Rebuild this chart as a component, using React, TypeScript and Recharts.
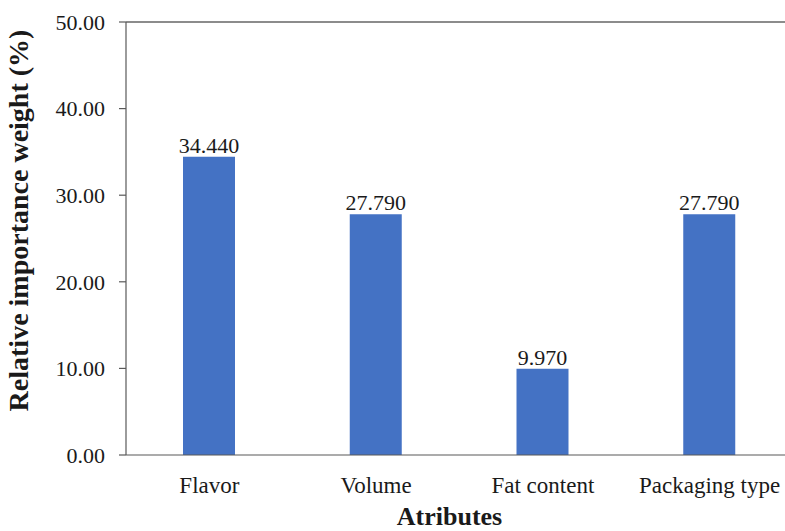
import { Bar, BarChart, LabelList, ReferenceLine, XAxis, YAxis } from "recharts";

const attributes = ["Flavor", "Volume", "Fat content", "Packaging type"];
const weights = [34.44, 27.79, 9.97, 27.79];
const yTicks = [0, 10, 20, 30, 40, 50];

const data = attributes.map((name, i) => ({ name, weight: weights[i] }));

const font = '"Liberation Serif", "Times New Roman", serif';
const ink = "#1a1a1a";
const axisStroke = "#595959";

function YTitle({ viewBox }: any) {
  const cx = viewBox.x + 28;
  const cy = viewBox.y + viewBox.height / 2 - 18;
  return (
    <text x={cx} y={cy} transform={`rotate(-90, ${cx}, ${cy})`} textAnchor="middle"
      fontFamily={font} fontSize={28} fontWeight="bold" fill={ink}>
      Relative importance weight (%)
    </text>
  );
}

function XTitle({ viewBox }: any) {
  const cx = viewBox.x + viewBox.width / 2 - 10;
  return (
    <text x={cx} y={viewBox.y + 70} textAnchor="middle"
      fontFamily={font} fontSize={26} fontWeight="bold" fill={ink}>
      Atributes
    </text>
  );
}

export default function App() {
  return (
    <div style={{ position: "fixed", left: 0, top: 0, width: 785, height: 531, overflow: "hidden", background: "#fff", fontFamily: font }}>
      <BarChart width={800} height={531} data={data} margin={{ top: 22, right: 7, left: 0, bottom: 0 }}
        style={{ fontFamily: font }}>
        <ReferenceLine y={50} stroke={ink} strokeWidth={1.2} />
        <XAxis dataKey="name" height={76} tickLine={false} tickSize={0} tickMargin={22}
          stroke={axisStroke} strokeWidth={1.2}
          tick={{ fontFamily: font, fontSize: 23, fill: ink }}
          label={<XTitle />} />
        <YAxis width={126} domain={[0, 50]} ticks={yTicks} tickSize={7} tickMargin={14}
          stroke={axisStroke} strokeWidth={1.2}
          tickFormatter={(v: number) => v.toFixed(2)}
          tick={{ fontFamily: font, fontSize: 22, fill: ink }}
          label={<YTitle />} />
        <Bar dataKey="weight" fill="#4472C4" barSize={52} isAnimationActive={false}>
          <LabelList dataKey="weight" position="top" offset={4}
            formatter={(v: number) => v.toFixed(3)}
            fontFamily={font} fontSize={22} fill={ink} />
        </Bar>
      </BarChart>
    </div>
  );
}
